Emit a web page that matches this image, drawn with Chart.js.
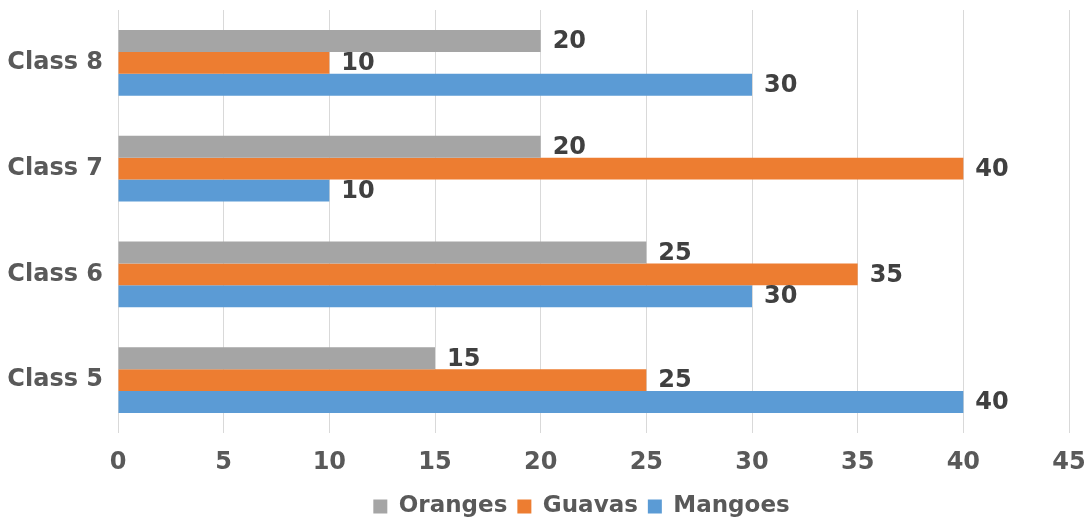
<!DOCTYPE html>
<html>
<head>
<meta charset="utf-8">
<script src="https://cdn.jsdelivr.net/npm/chart.js@4/dist/chart.umd.min.js"></script>
<style>
html,body{margin:0;padding:0;background:#fff;}
#wrap{width:1088px;height:519px;position:relative;}
</style>
</head>
<body>
<div id="wrap"><canvas id="c" width="1088" height="519"></canvas></div>
<script>
const categories = ["Class 8", "Class 7", "Class 6", "Class 5"];
const oranges = [20, 20, 25, 15];
const guavas = [10, 40, 35, 25];
const mangoes = [30, 10, 30, 40];
const xTicks = [0, 5, 10, 15, 20, 25, 30, 35, 40, 45];

const FONT = "'DejaVu Sans', sans-serif";

const valueLabels = {
  id: 'valueLabels',
  afterDatasetsDraw(chart) {
    const ctx = chart.ctx;
    ctx.save();
    ctx.font = "bold 24px " + FONT;
    ctx.fillStyle = "#404040";
    ctx.textAlign = "left";
    ctx.textBaseline = "middle";
    chart.data.datasets.forEach((ds, i) => {
      const meta = chart.getDatasetMeta(i);
      meta.data.forEach((el, j) => {
        ctx.fillText(String(ds.data[j]), el.x + 12, el.y + 1);
      });
    });
    ctx.restore();
  }
};

const legendShift = {
  id: 'legendShift',
  afterLayout(chart) {
    if (chart.legend) {
      chart.legend.left += 47;
      chart.legend.right += 47;
    }
  }
};

new Chart(document.getElementById('c'), {
  type: 'bar',
  data: {
    labels: categories,
    datasets: [
      { label: 'Oranges', data: oranges, backgroundColor: '#a5a5a5' },
      { label: 'Guavas', data: guavas, backgroundColor: '#ed7d31' },
      { label: 'Mangoes', data: mangoes, backgroundColor: '#5b9bd5' }
    ]
  },
  options: {
    indexAxis: 'y',
    responsive: false,
    animation: false,
    devicePixelRatio: 1,
    layout: { padding: { top: 10, right: 19, left: 0, bottom: -9 } },
    datasets: { bar: { categoryPercentage: 0.62, barPercentage: 1.0 } },
    scales: {
      x: {
        min: 0, max: 45,
        afterBuildTicks: s => { s.ticks = xTicks.map(v => ({ value: v })); },
        afterFit: s => { s.height = 52; s.paddingLeft = 0; s.paddingRight = 0; },
        grid: { color: '#d9d9d9', lineWidth: 1, drawTicks: false },
        border: { display: false },
        ticks: { padding: 15, color: '#595959', font: { family: FONT, size: 24, weight: 'bold' } }
      },
      y: {
        afterFit: s => { s.width = 118; s.paddingTop = 0; s.paddingBottom = 0; },
        grid: { display: false, drawTicks: false },
        border: { display: false },
        ticks: { padding: 15, color: '#595959', font: { family: FONT, size: 24, weight: 'bold' } }
      }
    },
    plugins: {
      legend: {
        position: 'bottom',
        labels: {
          boxWidth: 14, boxHeight: 14, padding: 10,
          color: '#595959',
          font: { family: FONT, size: 23, weight: 'bold' }
        }
      },
      tooltip: { enabled: false }
    }
  },
  plugins: [valueLabels, legendShift]
});
</script>
</body>
</html>
